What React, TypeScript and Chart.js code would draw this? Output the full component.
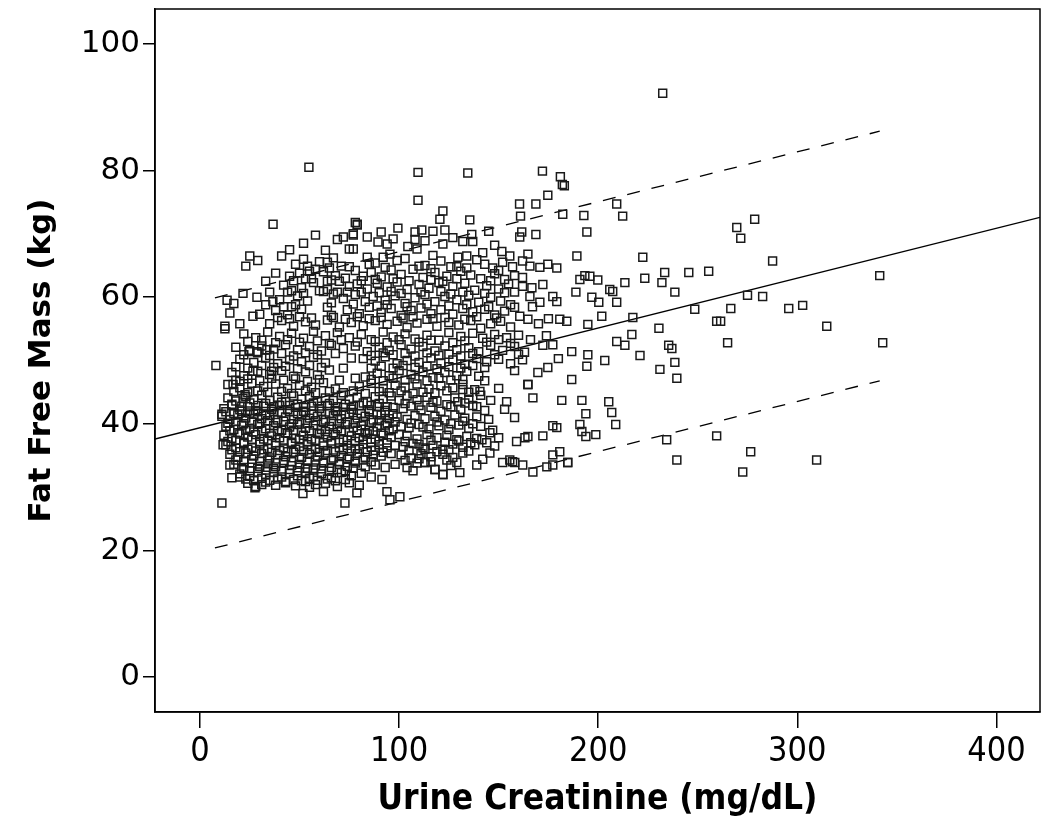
import React, { useEffect, useRef } from "react";
import { Chart, registerables } from "chart.js";

Chart.register(...registerables);

type P = [number, number];

const xTicks = [0, 100, 200, 300, 400];
const yTicks = [0, 20, 40, 60, 80, 100];
const xTitle = "Urine Creatinine (mg/dL)";
const yTitle = "Fat Free Mass (kg)";

// Fit line and prediction interval (endpoints)
const fitLine: P[] = [[-22.6, 37.6], [421.9, 72.6]];
const upperBand: P[] = [[7.5, 59.9], [341.4, 86.2]];
const lowerBand: P[] = [[7.5, 20.4], [341.4, 46.8]];

// Top outliers (y > 66)
const topPts: P[] = [
  [54.7, 80.5], [109.5, 79.7], [134.5, 79.6], [172, 79.9], [181, 79], [183, 77.6], [182, 77.8],
  [174.7, 76.1], [109.5, 75.3], [122, 73.6], [120.5, 72.3], [135.5, 72.2], [160.5, 74.7], [161, 72.8],
  [168.7, 74.7], [182.2, 73.1], [36.7, 71.5], [78, 71.8], [79, 71.4], [91, 70.3], [99.4, 70.9],
  [108, 70.3], [111.4, 70.6], [117, 70.4], [123, 70.6], [136.5, 69.9], [137, 68.8], [132, 68.8],
  [161.6, 70.3], [160.6, 69.5], [168.7, 69.9], [25, 66.5], [29, 65.8], [41, 66.5], [63, 67.4],
  [69, 69.1], [72, 69.5], [77, 69.8], [79, 71.5], [75, 67.6], [89.4, 68.7], [94, 68.4], [95.4, 66.8],
  [108, 69.1], [109, 67.6], [104.4, 68], [122, 68.4], [117, 66.6], [151.6, 67.2], [155.6, 66.5],
  [77, 67.6], [77, 70], [164.7, 66.8], [145, 70.4], [148, 68.2], [142, 67.0], [113, 68.9], [84, 69.5],
  [97, 69.2], [58, 69.8], [52, 68.5], [45, 67.5], [127, 69.4]
];

// Upper band of the cloud (y 55-66)
const upperPts: P[] = [
  [23, 64.9], [33, 62.5], [45, 63.3], [64, 65.5], [71, 64.9], [55, 64.1], [58, 64.4], [13.6, 59.5],
  [21.6, 60.6], [28.6, 60], [35, 60.8], [36.6, 59.3], [26.6, 57], [30, 57.3], [12.5, 55.4], [46, 61],
  [46, 58.5], [64, 62.5], [70, 62.5], [75, 61.7], [69, 60.8], [74, 60.8], [64, 61.2], [129.5, 66.3],
  [134, 66.5], [84, 66.3], [85, 65.2], [92, 66.3], [82, 63.3], [172.2, 62], [177.2, 60.1], [179.2, 59.3],
  [162, 63.1], [162, 61.7], [166.7, 61.5], [165.7, 60.1], [158, 60.8], [170.7, 59.2], [167, 58.5],
  [162, 65.7], [165.7, 64.9], [170.7, 64.7], [174.7, 65.2], [179.2, 64.6], [180.7, 56.5], [184.2, 56.2],
  [160.6, 57], [164.7, 56.5],
  [48, 65.2], [52, 66.0], [60, 65.6], [67, 66.2], [88, 65.4], [99, 65.8], [103, 66.1], [113, 65.0],
  [121, 65.7], [126, 64.8], [139, 65.9], [143, 65.2], [147, 64.6], [152, 65.5], [157, 64.8],
  [50, 63.8], [56, 62.9], [62, 64.0], [68, 63.4], [78, 64.2], [86, 63.9], [91, 63.2], [96, 64.3],
  [101, 63.6], [107, 64.4], [112, 63.1], [118, 63.9], [124, 63.3], [131, 64.1], [136, 63.5], [141, 62.9],
  [148, 63.7], [153, 62.8], [158, 63.4],
  [42, 61.9], [51, 61.5], [57, 62.3], [60, 61.0], [79, 62.1], [84, 61.3], [89, 62.2], [94, 61.6],
  [99, 62.4], [104, 61.2], [110, 62.0], [115, 61.4], [120, 62.3], [127, 61.7], [133, 62.2], [138, 61.1],
  [144, 61.8], [150, 61.3], [155, 62.1],
  [40, 59.6], [49, 60.2], [54, 59.4], [66, 59.1], [72, 59.8], [78, 60.4], [83, 59.3], [87, 60.1],
  [93, 59.5], [98, 60.2], [103, 59.0], [108, 59.9], [113, 60.4], [118, 59.3], [123, 60.1], [129, 59.6],
  [135, 60.3], [140, 59.2], [146, 60.0], [151, 59.4], [156, 58.8],
  [38, 57.9], [44, 57.2], [51, 58.1], [66, 57.1], [74, 58.0], [80, 57.4], [85, 58.4], [91, 57.6],
  [96, 58.2], [101, 57.1], [106, 57.9], [111, 58.3], [116, 57.4], [121, 58.0], [127, 57.3], [132, 58.2],
  [137, 57.7], [143, 58.1], [148, 57.2], [153, 57.8], [158, 58.4],
  [35, 55.8], [41, 56.3], [47, 55.4], [53, 56.1], [58, 55.6], [64, 56.4], [70, 55.3], [76, 56.0],
  [82, 55.5], [88, 56.3], [94, 55.7], [99, 56.2], [104, 55.2], [109, 55.9], [114, 56.5], [119, 55.4],
  [125, 56.0], [130, 55.6], [136, 56.3], [141, 55.1], [146, 55.8], [151, 56.2], [156, 55.3], [170, 55.8],
  [175, 56.6], [17, 59.0], [20, 55.8], [15, 57.5], [33, 58.8], [38, 63.8]
];

// Extra marks in the upper band where the cloud is darkest
const upperFillPts: P[] = [
  [54, 64.9], [65, 64.6], [75, 64.8], [93, 64.7], [110, 64.9], [116, 64.5], [129, 64.8], [134, 64.6], [150, 64.2],
  [47, 62.6], [53, 62.9], [66, 62.7], [73, 63.0], [81, 62.6], [88, 62.8], [97, 62.9], [105, 62.6], [116, 62.8],
  [122, 62.5], [129, 62.9], [146, 62.6],
  [44, 60.8], [52, 60.6], [62, 60.9], [67, 60.5], [81, 60.8], [90, 60.7], [96, 60.9], [101, 60.6], [111, 60.8],
  [121, 60.9], [126, 60.5], [132, 60.8], [143, 60.6], [153, 60.7],
  [42, 58.5], [48, 58.8], [64, 58.4], [77, 58.9], [89, 58.6], [94, 58.8], [104, 58.5], [114, 58.9], [125, 58.6],
  [134, 58.8], [145, 58.5],
  [39, 56.8], [45, 56.6], [50, 56.9], [56, 56.7], [67, 56.8], [73, 56.5], [79, 56.9], [85, 56.6], [91, 56.8],
  [102, 56.7], [107, 56.9], [117, 56.6], [123, 56.8], [133, 56.5], [139, 56.9], [149, 56.7]
];

// Middle band (y 45-55)
const midPts: P[] = [
  [22, 54.2], [28, 53.6], [34, 54.5], [40, 53.8], [46, 54.3], [52, 53.5], [57, 54.6], [63, 53.9],
  [69, 54.4], [75, 53.6], [81, 54.1], [86, 53.3], [92, 54.5], [97, 53.7], [103, 54.2], [108, 53.4],
  [114, 54.0], [120, 53.2], [125, 54.4], [131, 53.8], [137, 54.3], [142, 53.5], [148, 54.1], [154, 53.6],
  [160, 54.0], [166, 53.3], [174, 53.9],
  [18, 52.1], [25, 51.6], [31, 52.3], [37, 51.8], [43, 52.5], [49, 51.7], [55, 52.2], [61, 51.5],
  [66, 52.4], [72, 51.9], [78, 52.3], [84, 51.4], [90, 52.1], [95, 51.6], [101, 52.5], [106, 51.8],
  [112, 52.2], [118, 51.5], [123, 52.3], [129, 51.7], [135, 52.0], [140, 51.4], [146, 52.4], [152, 51.6],
  [158, 52.2], [163, 51.3],
  [20, 50.2], [27, 49.7], [33, 50.4], [39, 49.5], [45, 50.1], [51, 49.8], [57, 50.5], [63, 49.6],
  [82, 50.3], [88, 49.9], [93, 50.6], [99, 49.5], [104, 50.0], [110, 49.7], [116, 50.4], [121, 49.6],
  [127, 50.1], [133, 49.4], [139, 50.3], [144, 49.8], [150, 50.2], [156, 49.5], [162, 50.1], [180, 50.3],
  [16, 48.1], [22, 47.6], [29, 48.3], [35, 47.8], [41, 48.4], [47, 47.5], [53, 48.2], [59, 47.7],
  [65, 48.5], [83, 47.4], [89, 48.0], [95, 47.6], [100, 48.4], [106, 47.8], [112, 48.2], [117, 47.3],
  [123, 48.1], [129, 47.6], [134, 48.3], [140, 47.5], [158, 48.4],
  [14, 46.2], [20, 45.7], [26, 46.4], [32, 45.9], [38, 46.3], [44, 45.6], [50, 46.1], [56, 45.8],
  [62, 46.5], [68, 45.5], [80, 45.9], [86, 46.4], [92, 45.6], [98, 46.1], [103, 45.8], [109, 46.3],
  [115, 45.5], [121, 46.0], [127, 45.7], [132, 46.2], [138, 45.4], [150, 45.6], [164.7, 46.2],
  [8, 49.2], [12.5, 55], [16.6, 46.2], [24.6, 51.4], [28.6, 51.4], [33.6, 51.7], [26.6, 48.3], [36, 48.3],
  [169.7, 48.1], [174.7, 48.9], [172.2, 52.4], [177.2, 52.5],
  [72, 48.8], [78, 47.2], [76, 50.4], [70, 46.9]
];

// Extra marks in the middle band
const midFillPts: P[] = [
  [24, 53.0], [31, 53.2], [38, 52.8], [44, 53.3], [50, 52.9], [59, 53.1], [65, 52.7], [71, 53.3], [79, 52.9],
  [88, 53.0], [94, 52.8], [100, 53.3], [110, 52.9], [116, 53.2], [127, 52.8], [133, 53.1], [144, 52.9],
  [150, 53.3], [156, 52.7],
  [22, 50.9], [29, 51.2], [35, 50.8], [41, 51.1], [47, 50.7], [53, 51.2], [59, 50.9], [68, 51.1], [86, 50.8],
  [92, 51.2], [97, 50.9], [103, 51.1], [108, 50.7], [114, 51.2], [120, 50.8], [125, 51.0], [131, 50.7],
  [137, 51.1], [148, 50.9], [160, 51.0],
  [18, 49.0], [24, 48.8], [31, 49.2], [37, 48.9], [43, 49.1], [49, 48.7], [55, 49.2], [61, 48.9], [86, 48.8],
  [91, 49.1], [97, 48.8], [102, 49.2], [108, 48.9], [114, 49.1], [119, 48.7], [125, 49.0], [131, 48.8],
  [137, 49.2], [143, 48.9],
  [18, 46.9], [24, 47.1], [30, 46.8], [36, 47.2], [42, 46.9], [48, 47.1], [54, 46.7], [60, 47.0], [86, 47.0],
  [92, 46.8], [97, 47.2], [103, 46.9], [108, 47.1], [114, 46.8], [120, 47.2], [126, 46.9], [132, 47.0],
  [143, 46.8],
  [17, 45.1], [24, 44.9], [29, 45.2], [34, 45.0], [41, 45.1], [46, 44.8], [53, 45.2], [58, 44.9], [65, 45.1],
  [72, 44.9], [77, 45.2], [83, 44.8], [90, 45.1], [95, 44.9], [101, 45.2], [107, 44.8], [112, 45.0],
  [118, 44.9], [124, 45.2], [135, 45.0]
];

// Dense core (y 30-45, x 10-100)
const corePts: P[] = [
  [14, 44.1], [18, 43.6], [23, 44.3], [27, 43.8], [31, 44.5], [35, 43.7], [39, 44.2], [43, 43.5],
  [47, 44.4], [51, 43.9], [55, 44.3], [59, 43.6], [63, 44.1], [67, 43.7], [71, 44.5], [75, 43.8],
  [79, 44.2], [84, 43.5], [88, 44.3], [92, 43.9], [96, 44.4], [100, 43.7],
  [12, 42.4], [16, 42.9], [20, 42.2], [24, 42.7], [28, 42.1], [32, 42.8], [36, 42.3], [40, 42.9],
  [44, 42.2], [48, 42.6], [52, 42.0], [56, 42.8], [60, 42.4], [64, 42.9], [68, 42.1], [72, 42.6],
  [76, 42.3], [80, 42.9], [85, 42.2], [89, 42.7], [93, 42.1], [97, 42.6], [102, 42.4],
  [11, 41.2], [15, 40.7], [19, 41.4], [23, 40.9], [27, 41.5], [31, 40.8], [35, 41.3], [39, 40.6],
  [43, 41.1], [47, 40.7], [51, 41.4], [55, 40.9], [59, 41.2], [63, 40.6], [67, 41.3], [71, 40.8],
  [75, 41.5], [79, 40.9], [83, 41.2], [87, 40.6], [91, 41.4], [95, 40.8], [99, 41.1], [104, 40.7],
  [13, 39.6], [17, 39.1], [21, 39.8], [25, 39.3], [29, 39.9], [33, 39.2], [37, 39.7], [41, 39.0],
  [45, 39.5], [49, 39.9], [53, 39.3], [57, 39.8], [61, 39.1], [65, 39.6], [69, 39.2], [73, 39.9],
  [77, 39.4], [81, 39.7], [85, 39.0], [89, 39.5], [93, 39.8], [97, 39.2], [101, 39.6],
  [12, 38.2], [16, 37.7], [20, 38.4], [24, 37.9], [28, 38.3], [32, 37.6], [36, 38.1], [40, 37.8],
  [44, 38.5], [48, 37.7], [52, 38.2], [56, 37.6], [60, 38.4], [64, 37.9], [68, 38.3], [72, 37.5],
  [76, 38.1], [80, 37.8], [84, 38.4], [88, 37.6], [92, 38.2], [96, 37.9], [100, 38.3],
  [13, 36.7], [18, 36.2], [22, 36.9], [26, 36.3], [30, 36.8], [34, 36.1], [38, 36.6], [42, 36.2],
  [46, 36.9], [50, 36.4], [54, 36.7], [58, 36.0], [62, 36.5], [66, 36.9], [70, 36.2], [74, 36.6],
  [78, 36.1], [82, 36.8], [86, 36.3], [90, 36.7], [94, 36.2], [98, 36.6],
  [15, 35.2], [19, 34.7], [23, 35.4], [27, 34.9], [31, 35.3], [35, 34.6], [39, 35.1], [43, 34.8],
  [47, 35.5], [51, 34.7], [55, 35.2], [59, 34.9], [63, 35.4], [67, 34.6], [71, 35.0], [75, 34.8],
  [79, 35.3], [83, 34.7], [87, 35.1], [91, 34.9], [96, 35.3],
  [17, 33.6], [22, 33.1], [26, 33.8], [30, 33.3], [34, 33.7], [38, 33.2], [42, 33.9], [46, 33.4],
  [50, 33.6], [54, 33.0], [58, 33.5], [62, 33.8], [66, 33.1], [70, 33.6], [74, 33.3], [78, 33.8],
  [83, 33.2], [88, 33.5], [93, 33.1],
  [20, 32.1], [25, 31.7], [29, 32.4], [33, 31.9], [37, 32.3], [41, 31.6], [45, 32.2], [49, 31.8],
  [53, 32.4], [57, 31.7], [61, 32.1], [66, 31.5], [71, 32.3], [76, 31.8], [81, 32.2], [86, 31.6],
  [24, 30.6], [28, 30.1], [33, 30.8], [38, 30.3], [43, 30.7], [48, 30.2], [53, 30.9], [58, 30.4],
  [63, 30.6], [69, 30.1], [75, 30.7], [80, 30.3],
  [22.6, 44.6], [21.6, 44], [20, 46.7], [11.6, 36.7], [11, 41.5], [15, 33.5], [16, 31.5], [20, 31.6]
];

// Extra marks in the darkest part of the core
const coreFillPts: P[] = [
  [16, 43.1], [21, 42.8], [25, 43.3], [29, 42.9], [33, 43.2], [37, 42.7], [41, 43.4], [45, 42.9], [49, 43.1],
  [53, 42.6], [57, 43.3], [61, 42.8], [65, 43.2], [69, 42.7], [73, 43.1], [77, 42.8], [82, 43.3], [86, 42.9],
  [90, 43.2], [94, 42.7],
  [13, 41.9], [17, 41.6], [21, 42.0], [25, 41.7], [29, 41.9], [33, 41.5], [37, 42.0], [41, 41.7], [45, 41.9],
  [49, 41.6], [53, 41.8], [57, 41.5], [61, 42.0], [65, 41.6], [69, 41.9], [73, 41.5], [77, 41.8], [81, 41.6],
  [85, 41.9], [89, 41.5], [93, 41.8], [97, 41.6],
  [14, 40.1], [18, 40.4], [22, 40.0], [26, 40.3], [30, 40.1], [34, 40.5], [38, 40.2], [42, 40.4], [46, 40.0],
  [50, 40.3], [54, 40.1], [58, 40.5], [62, 40.2], [66, 40.4], [70, 40.0], [74, 40.3], [78, 40.1], [82, 40.4],
  [86, 40.2], [90, 40.5], [94, 40.1], [98, 40.3],
  [15, 38.9], [19, 38.6], [23, 39.0], [27, 38.7], [31, 38.9], [35, 38.5], [39, 38.8], [43, 38.6], [47, 39.0],
  [51, 38.7], [55, 38.9], [59, 38.5], [63, 38.8], [67, 38.6], [71, 38.9], [75, 38.7], [79, 39.0], [83, 38.6],
  [87, 38.8], [91, 38.5], [95, 38.9],
  [14, 37.2], [18, 37.4], [22, 37.1], [26, 37.5], [30, 37.2], [34, 37.4], [38, 37.0], [42, 37.3], [46, 37.1],
  [50, 37.5], [54, 37.2], [58, 37.4], [62, 37.0], [66, 37.3], [70, 37.1], [74, 37.4], [78, 37.2], [82, 37.5],
  [86, 37.1], [90, 37.3], [94, 37.0],
  [16, 35.9], [20, 35.6], [24, 36.0], [28, 35.7], [32, 35.9], [36, 35.5], [40, 35.8], [44, 35.6], [48, 36.0],
  [52, 35.7], [56, 35.9], [60, 35.5], [64, 35.8], [68, 35.6], [72, 35.9], [76, 35.7], [80, 36.0], [84, 35.6],
  [88, 35.8], [92, 35.5],
  [18, 34.3], [22, 34.0], [26, 34.4], [30, 34.1], [34, 34.3], [38, 33.9], [42, 34.2], [46, 34.0], [50, 34.4],
  [54, 34.1], [58, 34.3], [62, 33.9], [66, 34.2], [70, 34.0], [74, 34.4], [78, 34.1], [82, 34.3], [86, 34.0],
  [21, 32.9], [25, 32.6], [29, 33.0], [33, 32.7], [37, 32.9], [41, 32.5], [45, 32.8], [49, 32.6], [53, 33.0],
  [57, 32.7], [61, 32.9], [65, 32.5], [69, 32.8], [73, 32.6], [77, 33.0],
  [23, 31.3], [27, 31.0], [31, 31.4], [35, 31.1], [39, 31.3], [43, 30.9], [47, 31.2], [51, 31.0], [55, 31.4],
  [59, 31.1], [64, 31.3], [68, 31.0], [73, 31.2]
];

// Right part of lower cloud (y 30-45, x 100-185)
const rightCorePts: P[] = [
  [104, 44.4], [109, 43.8], [114, 44.2], [119, 43.6], [128, 44.1], [135, 43.9], [141, 44.5], [146, 43.7],
  [106, 42.8], [111, 42.2], [116, 42.6], [121, 42.0], [126, 42.7], [131, 42.3], [137, 42.9], [143, 42.1],
  [153, 42.3], [108, 41.3], [113, 40.8], [118, 41.2], [123, 40.6], [128, 41.4], [133, 40.9], [139, 41.1],
  [145, 40.7], [105, 39.4], [110, 39.9], [115, 39.2], [120, 39.7], [125, 39.1], [130, 39.8], [135, 39.3],
  [141, 39.6], [147, 39.0], [104, 38.1], [109, 37.6], [114, 38.3], [119, 37.8], [124, 38.2], [129, 37.5],
  [134, 38.0], [139, 37.7], [150, 37.8], [163.2, 37.8], [164.7, 38], [172.2, 38.1],
  [102, 36.4], [107, 36.9], [112, 36.2], [117, 36.6], [122, 36.0], [127, 36.8], [132, 36.3], [138, 36.7],
  [148, 36.5], [101, 35.1], [106, 34.6], [111, 35.3], [116, 34.8], [122, 35.2], [127, 34.7], [132, 35.4],
  [145.6, 35.4], [152, 33.9], [157, 34], [155.6, 34.3], [158.1, 33.9], [162.1, 33.5], [167.2, 32.4],
  [98, 33.6], [104, 33.1], [109, 33.8], [113, 33.9], [118, 32.8], [122, 32], [130.5, 32.3], [139, 33.5],
  [126, 33.4], [144, 37], [141.6, 37.5], [145.6, 38.6], [154, 43.5], [158, 41], [159, 37.2],
  [129.5, 43.5], [140.6, 45.1], [132, 45.4], [177.2, 39.7], [179.2, 39.4], [181.7, 43.7], [177.2, 35.1],
  [180.7, 35.6], [174.2, 33.2], [177.2, 33.5], [184.7, 33.9], [167.2, 44.1], [164.7, 46.2]
];

// Extra marks in the right part of the lower cloud
const rightFillPts: P[] = [
  [103, 43.2], [110, 42.9], [117, 43.4], [124, 43.0], [133, 43.3], [139, 42.7], [106, 40.1], [112, 39.5],
  [119, 40.3], [126, 40.0], [132, 40.4], [137, 40.0], [103, 37.2], [110, 36.8], [116, 37.4], [123, 37.1],
  [130, 37.3], [136, 37.0], [105, 35.8], [113, 36.0], [119, 35.6], [125, 35.9], [135, 35.7], [103, 34.2],
  [110, 34.5], [116, 34.0], [124, 34.3], [129, 33.9], [142, 34.4], [107, 32.6]
];

// Low points (y < 31)
const lowPts: P[] = [
  [11, 27.5], [27.6, 29.9], [31, 30.4], [51.7, 29], [72.8, 27.5], [78.8, 29.1], [93.9, 29.3], [95.4, 28],
  [100.4, 28.5], [91.4, 31.2], [55, 30.0], [62, 29.3], [118, 32.8], [122, 32], [113, 33.9]
];

// Sparse right side (x > 185)
const sparsePts: P[] = [
  [188.8, 60.8], [189.3, 66.5], [190.8, 62.8], [193.3, 63.4], [195.8, 63.3], [199.8, 62.7], [192.8, 72.9],
  [194.3, 70.3], [196.8, 60], [200.3, 59.2], [205.8, 61.2], [207.3, 60.9], [209.3, 59.2], [201.8, 57],
  [217.4, 56.8], [194.8, 55.7], [230.5, 55.1], [209.3, 74.7], [212.3, 72.8], [222.4, 66.3], [233.4, 63.9],
  [232, 62.3], [223.4, 63], [238.5, 60.8], [213.4, 62.3], [232.4, 92.2], [278.6, 72.3], [269.6, 71.0],
  [271.6, 69.3], [287.6, 65.7], [245.5, 63.9], [255.5, 64.1], [341.4, 63.4], [248.5, 58.1], [266.6, 58.2],
  [275, 60.3], [282.6, 60.1], [295.7, 58.2], [302.7, 58.7], [259.5, 56.2], [261.5, 56.2], [314.8, 55.4],
  [265, 52.8], [342.9, 52.8], [235.4, 52.4], [237, 51.9], [238.5, 49.7], [231, 48.6], [239.5, 47.2],
  [221, 50.8], [216.9, 54.1], [213.4, 52.4], [209.3, 53], [203.3, 50], [194.8, 50.9], [194.3, 49.1],
  [186.7, 51.4], [186.7, 47], [191.8, 43.7], [205.3, 43.5], [206.8, 41.8], [208.8, 39.9], [193.8, 41.6],
  [190.8, 39.9], [191.8, 38.8], [193.8, 38], [198.8, 38.3], [234.4, 37.5], [259.5, 38.1], [239.5, 34.3],
  [276.6, 35.6], [272.6, 32.4], [309.7, 34.3], [184.7, 33.9]
];

const allPts: P[] = [
  ...topPts, ...upperPts, ...upperFillPts, ...midPts, ...midFillPts,
  ...corePts, ...coreFillPts, ...rightCorePts, ...rightFillPts, ...lowPts, ...sparsePts,
];

const toXY = (arr: P[]) => arr.map(([x, y]) => ({ x, y }));

const yFont = '"DejaVu Sans", Verdana, sans-serif';
const xFont = '"DejaVu Sans Condensed", "Liberation Sans Narrow", "DejaVu Sans", sans-serif';

const framePlugin = {
  id: "frame",
  afterDatasetsDraw(chart: any) {
    const { ctx, chartArea } = chart;
    ctx.save();
    ctx.strokeStyle = "#000";
    ctx.lineWidth = 1.5;
    ctx.strokeRect(chartArea.left, chartArea.top, chartArea.right - chartArea.left, chartArea.bottom - chartArea.top);
    ctx.restore();
  },
};

export default function App() {
  const ref = useRef<HTMLCanvasElement | null>(null);
  useEffect(() => {
    if (!ref.current) return;
    const chart = new Chart(ref.current, {
      type: "scatter",
      data: {
        datasets: [
          {
            data: toXY(allPts),
            pointStyle: "rect",
            pointRadius: 5.6,
            borderColor: "#1a1a1a",
            backgroundColor: "rgba(0,0,0,0)",
            borderWidth: 1.5,
            showLine: false,
          } as any,
          {
            data: toXY(fitLine),
            showLine: true,
            pointRadius: 0,
            borderColor: "#000",
            borderWidth: 1.3,
          } as any,
          {
            data: toXY(upperBand),
            showLine: true,
            pointRadius: 0,
            borderColor: "#000",
            borderWidth: 1.3,
            borderDash: [13, 12],
          } as any,
          {
            data: toXY(lowerBand),
            showLine: true,
            pointRadius: 0,
            borderColor: "#000",
            borderWidth: 1.3,
            borderDash: [13, 12],
          } as any,
        ],
      },
      options: {
        animation: false,
        responsive: false,
        devicePixelRatio: 1,
        layout: { padding: { left: 0, right: 10, top: 9, bottom: 0 } },
        plugins: { legend: { display: false }, tooltip: { enabled: false } },
        scales: {
          x: {
            type: "linear",
            min: -22.6,
            max: 421.9,
            afterBuildTicks: (s: any) => { s.ticks = xTicks.map((v) => ({ value: v })); },
            afterFit: (s: any) => { s.height = 121; s.paddingLeft = 0; s.paddingRight = 0; },
            grid: { drawOnChartArea: false, drawTicks: true, tickLength: 16, color: "#000", lineWidth: 1.5 },
            border: { display: true, color: "#000", width: 1.5 },
            ticks: { color: "#000", font: { family: xFont, size: 34 }, padding: 4, maxRotation: 0 },
            title: { display: true, text: xTitle, color: "#000", font: { family: xFont, size: 35, weight: "bold" }, padding: { top: 0, bottom: 12 } },
          },
          y: {
            type: "linear",
            min: -5.5,
            max: 105.5,
            afterBuildTicks: (s: any) => { s.ticks = yTicks.map((v) => ({ value: v })); },
            afterFit: (s: any) => { s.width = 155; s.paddingTop = 0; s.paddingBottom = 0; },
            grid: { drawOnChartArea: false, drawTicks: true, tickLength: 12, color: "#000", lineWidth: 1.5 },
            border: { display: true, color: "#000", width: 1.5 },
            ticks: { color: "#000", font: { family: yFont, size: 31 }, padding: 3 },
            title: { display: true, text: yTitle, color: "#000", font: { family: yFont, size: 31, weight: "bold" }, padding: { top: 23, bottom: 0 } },
          },
        },
      } as any,
      plugins: [framePlugin],
    });
    return () => chart.destroy();
  }, []);
  return (
    <div style={{ position: "absolute", left: 0, top: 0, width: 1050, height: 833, background: "#fff" }}>
      <canvas ref={ref} width={1050} height={833} />
    </div>
  );
}
